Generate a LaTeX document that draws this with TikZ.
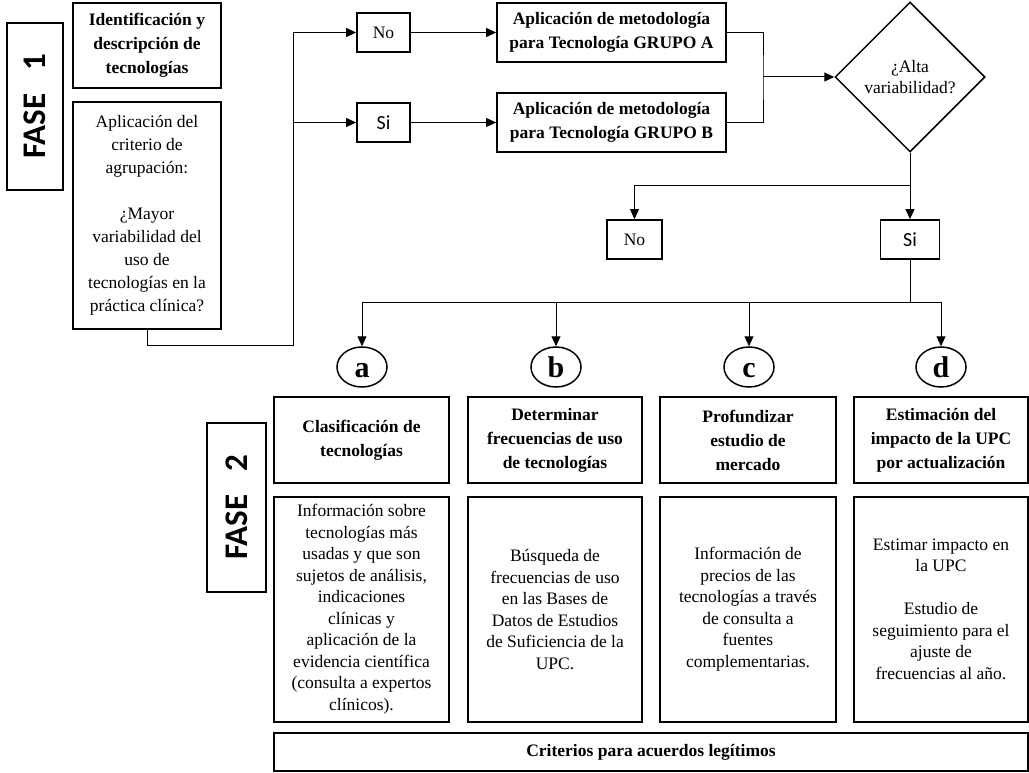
\documentclass[tikz,border=0pt]{standalone}
\usepackage{fontspec}
\setmainfont{Liberation Serif}
\newfontfamily\calibri{Carlito}
\usetikzlibrary{arrows.meta,positioning,shapes.geometric}

\begin{document}
\begin{tikzpicture}[
    x=1pt, y=-1pt,
    >={Triangle[length=10pt,width=9pt]},
    font=\fontsize{17.5}{21.5}\selectfont,
    box/.style={draw, line width=1.8pt, align=center, inner sep=2pt},
    head/.style={box, font=\fontsize{17.5}{24}\selectfont\bfseries},
    fase/.style={box, rotate=90, inner sep=0pt, font=\calibri\fontsize{33}{33}\selectfont\bfseries},
    tag/.style={box, minimum width=53pt, minimum height=39pt, inner sep=0pt},
    sitag/.style={tag, font=\calibri\fontsize{20}{20}\selectfont},
    letra/.style={draw, ellipse, line width=1.5pt, minimum width=50pt, minimum height=40pt, inner sep=0pt, text height=21pt, text depth=0pt, font=\fontsize{30}{30}\selectfont\bfseries},
    decide/.style={draw, diamond, line width=1.5pt, minimum width=150pt, minimum height=150pt, inner sep=0pt, align=center},
    link/.style={line width=1pt}
]
\useasboundingbox (0,0) rectangle (1029,773);

% fase 1
\node[fase, minimum width=167pt, minimum height=56pt] (fase1) at (35,106.5) {FASE\hspace{0.7em}1};
\node[head, minimum width=148pt, minimum height=85pt] (ident) at (147,45.5) {Identificación y\\descripción de\\tecnologías};
\node[box, minimum width=148pt, minimum height=227pt, below=12pt of ident, font=\fontsize{17.5}{23}\selectfont] (criterio) {Aplicación del\\criterio de\\agrupación:\\[23pt]¿Mayor\\variabilidad del\\uso de\\tecnologías en la\\práctica clínica?};

\node[tag] (no1) at (383.5,32.5) {No};
\node[sitag] (si1) at (383.5,122.5) {Si};
\node[head, minimum width=229pt, minimum height=59pt] (grpA) at (611.5,32.5) {Aplicación de metodología\\para Tecnología GRUPO A};
\node[head, minimum width=229pt, minimum height=59pt] (grpB) at (611.5,122.5) {Aplicación de metodología\\para Tecnología GRUPO B};
\node[decide] (alta) at (910,77) {¿Alta\\variabilidad?};
\node[tag, minimum width=55pt] (no2) at (634.5,239.5) {No};
\node[sitag, minimum width=59pt] (si2) at (910,239.5) {Si};

% letras
\node[letra] (ca) at (362,367) {a};
\node[letra] (cb) at (556,367) {b};
\node[letra] (cc) at (749,367) {c};
\node[letra] (cd) at (941,367) {d};

% fase 2
\node[fase, minimum width=169pt, minimum height=59pt] (fase2) at (236.5,507.5) {FASE\hspace{0.7em}2};
\node[head, minimum width=175pt, minimum height=86pt] (ta) at (361.5,440) {Clasificación de\\tecnologías};
\node[head, minimum width=174pt, minimum height=86pt] (tb) at (555,440) {Determinar\\frecuencias de uso\\de tecnologías};
\node[head, minimum width=176pt, minimum height=86pt] (tc) at (748,440) {Profundizar\\estudio de\\mercado};
\node[head, minimum width=174pt, minimum height=86pt] (td) at (941,440) {Estimación del\\impacto de la UPC\\por actualización};

\node[box, minimum width=175pt, minimum height=225pt, below=12pt of ta] (ba) {Información sobre\\tecnologías más\\usadas y que son\\sujetos de análisis,\\indicaciones\\clínicas y\\aplicación de la\\evidencia científica\\(consulta a expertos\\clínicos).};
\node[box, minimum width=174pt, minimum height=225pt, below=12pt of tb] (bb) {Búsqueda de\\frecuencias de uso\\en las Bases de\\Datos de Estudios\\de Suficiencia de la\\UPC.};
\node[box, minimum width=176pt, minimum height=225pt, below=12pt of tc] (bc) {Información de\\precios de las\\tecnologías a través\\de consulta a\\fuentes\\complementarias.};
\node[box, minimum width=174pt, minimum height=225pt, below=12pt of td] (bd) {Estimar impacto en\\la UPC\\[21.5pt]Estudio de\\seguimiento para el\\ajuste de\\frecuencias al año.};
\node[head, minimum width=754pt, minimum height=38pt] (acuerdos) at (651,752) {Criterios para acuerdos legítimos};

% conectores
\coordinate (jlow) at (293,345);
\coordinate (jtop) at (293,32.5);
\coordinate (jmid) at (293,122.5);
\coordinate (jm) at (763,77);
\coordinate (jd) at (910,186);
\coordinate (jr) at (910,302);
\draw[link] (criterio.south) |- (jlow) -- (jtop);
\draw[link,->] (jtop) -- (no1.west);
\draw[link,->] (jmid) -- (si1.west);
\draw[link,->] (no1.east) -- (grpA.west);
\draw[link,->] (si1.east) -- (grpB.west);
\draw[link] (grpA.east) -| (jm) |- (grpB.east);
\draw[link,->] (jm) -- (alta.west);
\draw[link] (alta.south) -- (jd);
\draw[link,->] (jd) -| (no2.north);
\draw[link,->] (jd) -- (si2.north);
\draw[link] (si2.south) -- (jr);
\foreach \n in {ca,cb,cc,cd}
    \draw[link,->] (jr) -| (\n.north);
\end{tikzpicture}
\end{document}
